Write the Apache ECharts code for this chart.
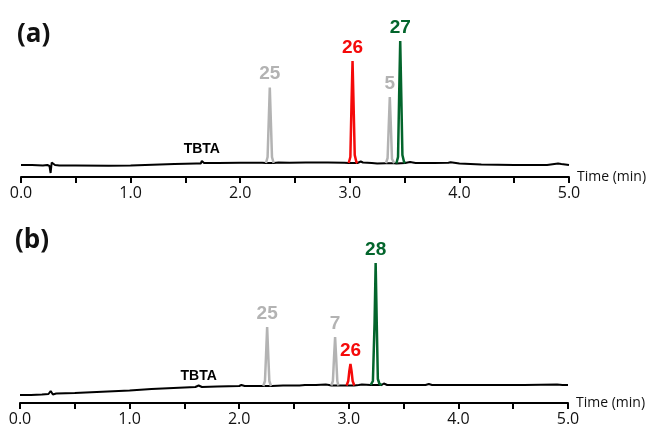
<!DOCTYPE html>
<html>
<head>
<meta charset="utf-8">
<script src="https://cdn.jsdelivr.net/npm/echarts@6/dist/echarts.min.js"></script>
<style>
html,body{margin:0;padding:0;background:#fff;}
#chart{width:651px;height:429px;}
</style>
</head>
<body>
<div id="chart"></div>
<script>
// ---------- Data (signal in arbitrary units, time in min) ----------
const xTicks = [0, 1, 2, 3, 4, 5];

// Panel (a) baseline
const baseA_t = [0.00,0.10,0.20,0.24,0.26,0.27,0.28,0.29,0.31,0.35,0.50,0.80,1.00,1.20,1.40,1.60,1.64,1.65,1.67,1.80,2.00,2.20,2.235,2.305,2.35,2.36,2.45,2.60,2.80,2.95,2.99,3.07,3.10,3.12,3.20,3.25,3.33,3.405,3.425,3.505,3.55,3.60,3.70,3.77,3.78,3.90,3.92,4.00,4.20,4.50,4.80,4.90,4.93,5.00];
const baseA_v = [12.0,12.0,11.5,12.0,11.0,4.0,14.5,15.0,12.0,11.5,11.5,11.3,11.5,12.3,13.0,13.5,13.5,16.0,14.0,14.0,14.2,14.3,14.0,14.0,14.5,15.3,14.3,14.5,14.5,14.3,14.0,14.0,15.5,14.5,14.0,13.5,13.8,13.8,13.5,14.0,15.0,14.0,14.0,14.0,15.0,14.2,14.8,13.5,12.5,12.0,12.0,13.5,13.0,12.0];

// Panel (a) peaks
const pkA25_t = [2.235,2.25,2.26,2.27,2.28,2.29,2.305];
const pkA25_v = [14.0,20.0,55.0,89.5,55.0,20.0,14.0];
const pkA26_t = [2.99,3.005,3.015,3.025,3.035,3.045,3.06,3.07];
const pkA26_v = [14.0,20.0,70.0,116.0,70.0,22.0,15.0,14.0];
const pkA5_t  = [3.33,3.345,3.355,3.365,3.375,3.385,3.405];
const pkA5_v  = [13.8,19.0,50.0,80.0,50.0,18.0,13.8];
const pkA27_t = [3.425,3.44,3.45,3.46,3.47,3.48,3.495,3.505];
const pkA27_v = [13.5,20.0,80.0,136.0,80.0,22.0,15.0,14.0];

// Panel (b) baseline
const baseB_t = [0.00,0.10,0.20,0.26,0.28,0.30,0.33,0.50,0.80,1.00,1.20,1.50,1.60,1.63,1.66,1.80,2.00,2.02,2.05,2.20,2.22,2.30,2.40,2.55,2.60,2.70,2.79,2.80,2.82,2.84,2.905,2.98,3.05,3.09,3.10,3.12,3.20,3.22,3.30,3.32,3.35,3.50,3.70,3.73,3.76,4.00,4.30,4.60,4.90,4.95,5.00];
const baseB_v = [8.0,8.0,8.5,9.0,12.0,8.5,9.5,10.0,11.5,12.5,14.0,15.5,16.0,17.5,16.0,16.5,17.0,18.0,17.0,17.0,17.0,17.0,17.5,17.5,18.0,18.0,18.5,19.5,18.0,17.5,17.5,17.5,17.5,18.0,19.5,18.5,18.0,18.0,18.0,19.5,18.0,18.0,18.0,19.0,18.0,18.0,18.0,18.0,18.5,18.0,18.0];

// Panel (b) peaks
const pkB25_t = [2.22,2.235,2.245,2.255,2.265,2.275,2.29];
const pkB25_v = [17.0,22.0,48.0,76.0,48.0,22.0,17.0];
const pkB7_t  = [2.84,2.855,2.865,2.875,2.885,2.895,2.905];
const pkB7_v  = [17.5,22.0,45.0,66.0,45.0,22.0,17.5];
const pkB26_t = [2.98,2.995,3.005,3.015,3.025,3.035,3.05];
const pkB26_v = [17.5,22.0,32.0,39.0,32.0,22.0,17.5];
const pkB28_t = [3.20,3.22,3.235,3.245,3.255,3.265,3.28,3.30];
const pkB28_v = [18.0,22.0,80.0,140.0,80.0,24.0,19.0,18.0];

// ---------- Styles ----------
const GRAY = '#b3b3b3', RED = '#f50a0a', GREEN = '#03652c', BLACK = '#000000';
const AXFONT = "'Open Sans', 'Noto Sans', sans-serif";
const PKFONT = "'Liberation Sans', Arial, sans-serif";

function pts(t, v){ return t.map((x,i)=>[x, v[i]]); }
function topOf(t, v){ let k=0; v.forEach((y,i)=>{ if(y>v[k]) k=i; }); return [t[k], v[k]]; }

function peakSeries(idx, t, v, color, name){
  return {
    type:'line', xAxisIndex:idx, yAxisIndex:idx, data:pts(t,v),
    symbol:'none', lineStyle:{color:color, width:2.5}, z:3, silent:true,
    markPoint:{
      symbol:'circle', symbolSize:0, silent:true, animation:false,
      data:[{coord:topOf(t,v), value:name}],
      label:{show:true, position:'top', distance:4, formatter:name,
             color:color, fontSize:19, fontWeight:'bold', fontFamily:PKFONT}
    }
  };
}
function baseSeries(idx, t, v, tbtaT, tbtaV, dist){
  return {
    type:'line', xAxisIndex:idx, yAxisIndex:idx, data:pts(t,v),
    symbol:'none', lineStyle:{color:BLACK, width:2}, z:2, silent:true,
    markPoint:{
      symbol:'circle', symbolSize:0, silent:true, animation:false,
      data:[{coord:[tbtaT, tbtaV], value:'TBTA'}],
      label:{show:true, position:'top', distance:dist, formatter:'TBTA',
             color:BLACK, fontSize:14, fontWeight:'bold', fontFamily:PKFONT}
    }
  };
}
function xAx(idx){
  return {
    gridIndex:idx, type:'value', min:0, max:5, interval:0.5,
    axisLine:{show:true, onZero:false, lineStyle:{color:BLACK, width:2}},
    axisTick:{show:true, length:6, lineStyle:{color:BLACK, width:2}},
    axisLabel:{formatter:(v)=> (xTicks.indexOf(v) >= 0 ? v.toFixed(1) : ''),
               fontFamily:AXFONT, fontSize:16, color:'#111', margin:8},
    splitLine:{show:false},
    name:'Time (min)', nameLocation:'end', nameGap:8,
    nameTextStyle:{fontFamily:AXFONT, fontSize:14, color:'#111', verticalAlign:'middle'}
  };
}
function yAx(idx){ return {gridIndex:idx, type:'value', min:0, max:150, show:false}; }

const chart = echarts.init(document.getElementById('chart'), null, {renderer:'canvas'});
chart.setOption({
  animation:false,
  backgroundColor:'#ffffff',
  title:[
    {text:'(a)', left:12, top:17, textStyle:{fontFamily:AXFONT, fontSize:26, fontWeight:'bold', color:'#111'}},
    {text:'(b)', left:10, top:223, textStyle:{fontFamily:AXFONT, fontSize:26, fontWeight:'bold', color:'#111'}}
  ],
  grid:[
    {left:21, right:82, top:27, height:150},
    {left:20, right:83, top:253, height:150}
  ],
  xAxis:[xAx(0), xAx(1)],
  yAxis:[yAx(0), yAx(1)],
  series:[
    baseSeries(0, baseA_t, baseA_v, 1.65, 16.0, 5),
    peakSeries(0, pkA25_t, pkA25_v, GRAY, '25'),
    peakSeries(0, pkA26_t, pkA26_v, RED, '26'),
    peakSeries(0, pkA5_t, pkA5_v, GRAY, '5'),
    peakSeries(0, pkA27_t, pkA27_v, GREEN, '27'),
    baseSeries(1, baseB_t, baseB_v, 1.63, 17.5, 2),
    peakSeries(1, pkB25_t, pkB25_v, GRAY, '25'),
    peakSeries(1, pkB7_t, pkB7_v, GRAY, '7'),
    peakSeries(1, pkB26_t, pkB26_v, RED, '26'),
    peakSeries(1, pkB28_t, pkB28_v, GREEN, '28')
  ]
});
</script>
</body>
</html>
